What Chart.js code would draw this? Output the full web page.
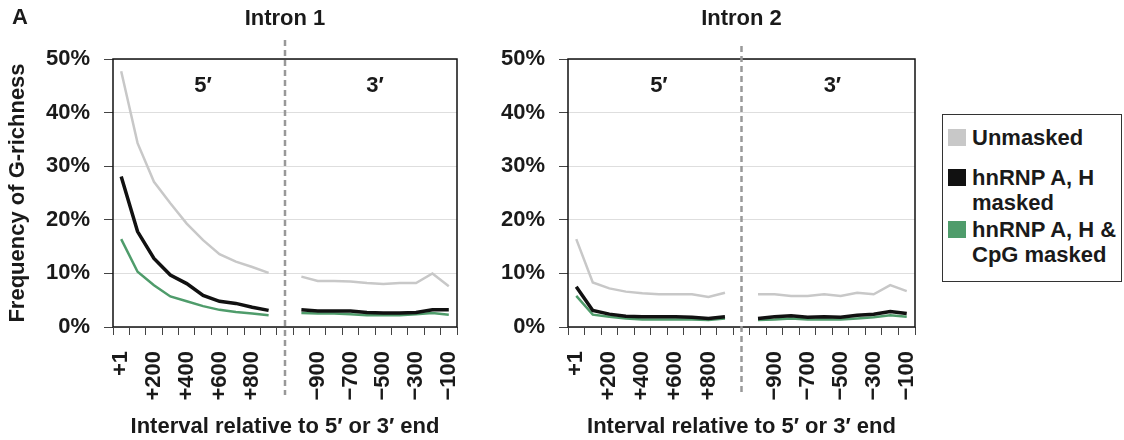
<!DOCTYPE html>
<html>
<head>
<meta charset="utf-8">
<title>G-richness by intron interval</title>
<script src="https://cdn.jsdelivr.net/npm/chart.js@4.4.0/dist/chart.umd.min.js"></script>
<style>
  body { margin: 0; background: #fff; font-family: 'Liberation Sans', Arial, sans-serif; color: #1a1a1a; }
  #wrap { position: relative; width: 1124px; height: 440px; }
  .panel { position: absolute; top: 0; width: 470px; height: 440px; }
  #p1 { left: 0; }
  #p2 { left: 470px; }
  #tag { position: absolute; left: 12px; top: 4px; font-weight: bold; font-size: 22px; }
  #legend {
    position: absolute; left: 942px; top: 114px; width: 180px; height: 168px;
    box-sizing: border-box; border: 1.5px solid #333; padding: 10px 0 0 5px;
    font-weight: bold; font-size: 22px;
  }
  #legend .item { display: flex; line-height: 25px; }
  #legend .item:first-child { margin-bottom: 15px; }
  #legend .item:nth-child(2) { margin-bottom: 2px; }
  #legend .sw { flex: none; width: 18px; height: 17px; margin: 4px 6px 0 0; }
</style>
</head>
<body>
<div id="wrap">
  <div class="panel" id="p1"><canvas id="chart1"></canvas></div>
  <div class="panel" id="p2"><canvas id="chart2"></canvas></div>
  <div id="tag">A</div>
  <div id="legend"></div>
</div>
<script>
// interval categories: 5' end, a blank slot for the divider, then 3' end
const categories = ['+1', '+100', '+200', '+300', '+400', '+500', '+600', '+700', '+800', '+900', '',
  '−1000', '−900', '−800', '−700', '−600', '−500', '−400', '−300', '−200', '−100'];
const tickLabels = ['+1', '+200', '+400', '+600', '+800', '−900', '−700', '−500', '−300', '−100'];
const panelTitles = ['Intron 1', 'Intron 2'];
const regionLabels = ['5′', '3′'];
const seriesNames = [['Unmasked'], ['hnRNP A, H', 'masked'], ['hnRNP A, H &', 'CpG masked']];
const seriesColors = ['#c8c8c8', '#111111', '#4f9c6b'];

// frequency of G-richness (%), 5' intervals then 3' intervals
const intron1Unmasked5 = [47.7, 34.3, 27.1, 23.1, 19.3, 16.2, 13.6, 12.2, 11.2, 10.1];
const intron1Unmasked3 = [9.4, 8.6, 8.6, 8.5, 8.2, 8.0, 8.2, 8.2, 10.0, 7.6];
const intron1Masked5 = [28.1, 17.8, 12.8, 9.7, 8.1, 5.9, 4.8, 4.4, 3.7, 3.1];
const intron1Masked3 = [3.2, 3.0, 3.0, 3.0, 2.7, 2.6, 2.6, 2.7, 3.2, 3.2];
const intron1CpG5 = [16.4, 10.3, 7.8, 5.7, 4.8, 3.9, 3.2, 2.8, 2.5, 2.2];
const intron1CpG3 = [2.6, 2.5, 2.5, 2.4, 2.2, 2.2, 2.2, 2.4, 2.6, 2.3];

const intron2Unmasked5 = [16.4, 8.3, 7.2, 6.6, 6.3, 6.1, 6.1, 6.1, 5.6, 6.4];
const intron2Unmasked3 = [6.1, 6.1, 5.8, 5.8, 6.1, 5.8, 6.4, 6.1, 7.8, 6.7];
const intron2Masked5 = [7.5, 3.1, 2.4, 2.0, 1.9, 1.9, 1.9, 1.8, 1.6, 1.9];
const intron2Masked3 = [1.6, 1.9, 2.1, 1.8, 1.9, 1.8, 2.2, 2.4, 2.9, 2.5];
const intron2CpG5 = [5.8, 2.3, 1.9, 1.6, 1.4, 1.4, 1.4, 1.4, 1.3, 1.6];
const intron2CpG3 = [1.3, 1.4, 1.6, 1.4, 1.4, 1.4, 1.6, 1.8, 2.2, 1.9];

const FONT = "'Liberation Sans', Arial, sans-serif";
const bold = { family: FONT, size: 22, weight: 'bold' };
Chart.defaults.color = '#1a1a1a';

// null in the blank slot breaks each line at the divider
function joinEnds(five, three) {
  return five.concat([null], three);
}

// plot frame, dashed 5'/3' divider and the region labels
const intronFrame = {
  id: 'intronFrame',
  afterDraw(chart, args, opts) {
    const { ctx, chartArea: a } = chart;
    const x = chart.scales.x, y = chart.scales.y;
    ctx.save();
    ctx.strokeStyle = '#111';
    ctx.lineWidth = 1.5;
    ctx.strokeRect(a.left, a.top, a.width, a.height);

    const gx = x.getPixelForValue(categories.indexOf(''));
    ctx.setLineDash([6, 4]);
    ctx.strokeStyle = '#999';
    ctx.lineWidth = 2.5;
    ctx.beginPath();
    ctx.moveTo(gx, opts.dashTop);
    ctx.lineTo(gx, 395);
    ctx.stroke();
    ctx.setLineDash([]);

    ctx.fillStyle = '#1a1a1a';
    ctx.font = 'bold 22px ' + FONT;
    ctx.textAlign = 'center';
    ctx.textBaseline = 'middle';
    ctx.fillText(regionLabels[0], x.getPixelForValue(5), y.getPixelForValue(45));
    ctx.fillText(regionLabels[1], x.getPixelForValue(15.5), y.getPixelForValue(45));
    ctx.restore();
  }
};

function makeChart(id, title, series, opts) {
  const ctx = document.getElementById(id).getContext('2d');
  // black drawn on top, then green, grey underneath
  const drawOrder = [1, 2, 0];
  return new Chart(ctx, {
    type: 'line',
    data: {
      labels: categories,
      datasets: drawOrder.map(function (i) {
        return {
          label: seriesNames[i].join(' '),
          data: series[i],
          borderColor: seriesColors[i],
          borderWidth: i === 1 ? 3.5 : 2.5,
          pointRadius: 0,
          tension: 0,
          spanGaps: false
        };
      })
    },
    options: {
      responsive: true,
      maintainAspectRatio: false,
      animation: false,
      layout: { padding: { left: 0, right: opts.padRight, top: 0, bottom: 0 } },
      plugins: {
        legend: { display: false },
        tooltip: { enabled: false },
        title: {
          display: true, text: title, font: bold, fullSize: false,
          padding: { top: 6, bottom: 26.6 }
        },
        intronFrame: { dashTop: opts.dashTop }
      },
      scales: {
        x: {
          offset: true,
          grid: { offset: true, drawOnChartArea: false, tickLength: 8, tickColor: '#444' },
          border: { display: false },
          ticks: {
            autoSkip: false, maxRotation: 90, minRotation: 90, padding: 16, font: bold,
            callback: function (v, i) {
              return tickLabels.includes(categories[i]) ? categories[i] : '';
            }
          },
          title: {
            display: true, text: 'Interval relative to 5′ or 3′ end', font: bold,
            padding: { top: 0, bottom: 0 }
          },
          afterFit: function (s) {
            s.height = 113;
            // rotated end labels need no extra side room
            s.paddingLeft = 0;
            s.paddingRight = 0;
          }
        },
        y: {
          min: 0, max: 50,
          grid: { color: '#dedede', lineWidth: 1, tickLength: 9, tickColor: '#444' },
          border: { display: false },
          ticks: {
            stepSize: 10, padding: 14, font: bold,
            callback: function (v) { return v + '%'; }
          },
          title: {
            display: opts.yTitle, text: 'Frequency of G-richness', font: bold,
            padding: { top: 5, bottom: 0 }
          },
          afterFit: function (s) { s.width = opts.yWidth; }
        }
      }
    },
    plugins: [intronFrame]
  });
}

makeChart('chart1', panelTitles[0], [
  joinEnds(intron1Unmasked5, intron1Unmasked3),
  joinEnds(intron1Masked5, intron1Masked3),
  joinEnds(intron1CpG5, intron1CpG3)
], { yTitle: true, yWidth: 113, padRight: 13, dashTop: 40 });

makeChart('chart2', panelTitles[1], [
  joinEnds(intron2Unmasked5, intron2Unmasked3),
  joinEnds(intron2Masked5, intron2Masked3),
  joinEnds(intron2CpG5, intron2CpG3)
], { yTitle: false, yWidth: 98, padRight: 25, dashTop: 46 });

// legend entries built from the same names and colours
const legend = document.getElementById('legend');
seriesNames.forEach(function (lines, i) {
  const item = document.createElement('div');
  item.className = 'item';
  const sw = document.createElement('span');
  sw.className = 'sw';
  sw.style.background = seriesColors[i];
  const txt = document.createElement('span');
  txt.innerHTML = lines.join('<br>');
  item.appendChild(sw);
  item.appendChild(txt);
  legend.appendChild(item);
});
</script>
</body>
</html>
